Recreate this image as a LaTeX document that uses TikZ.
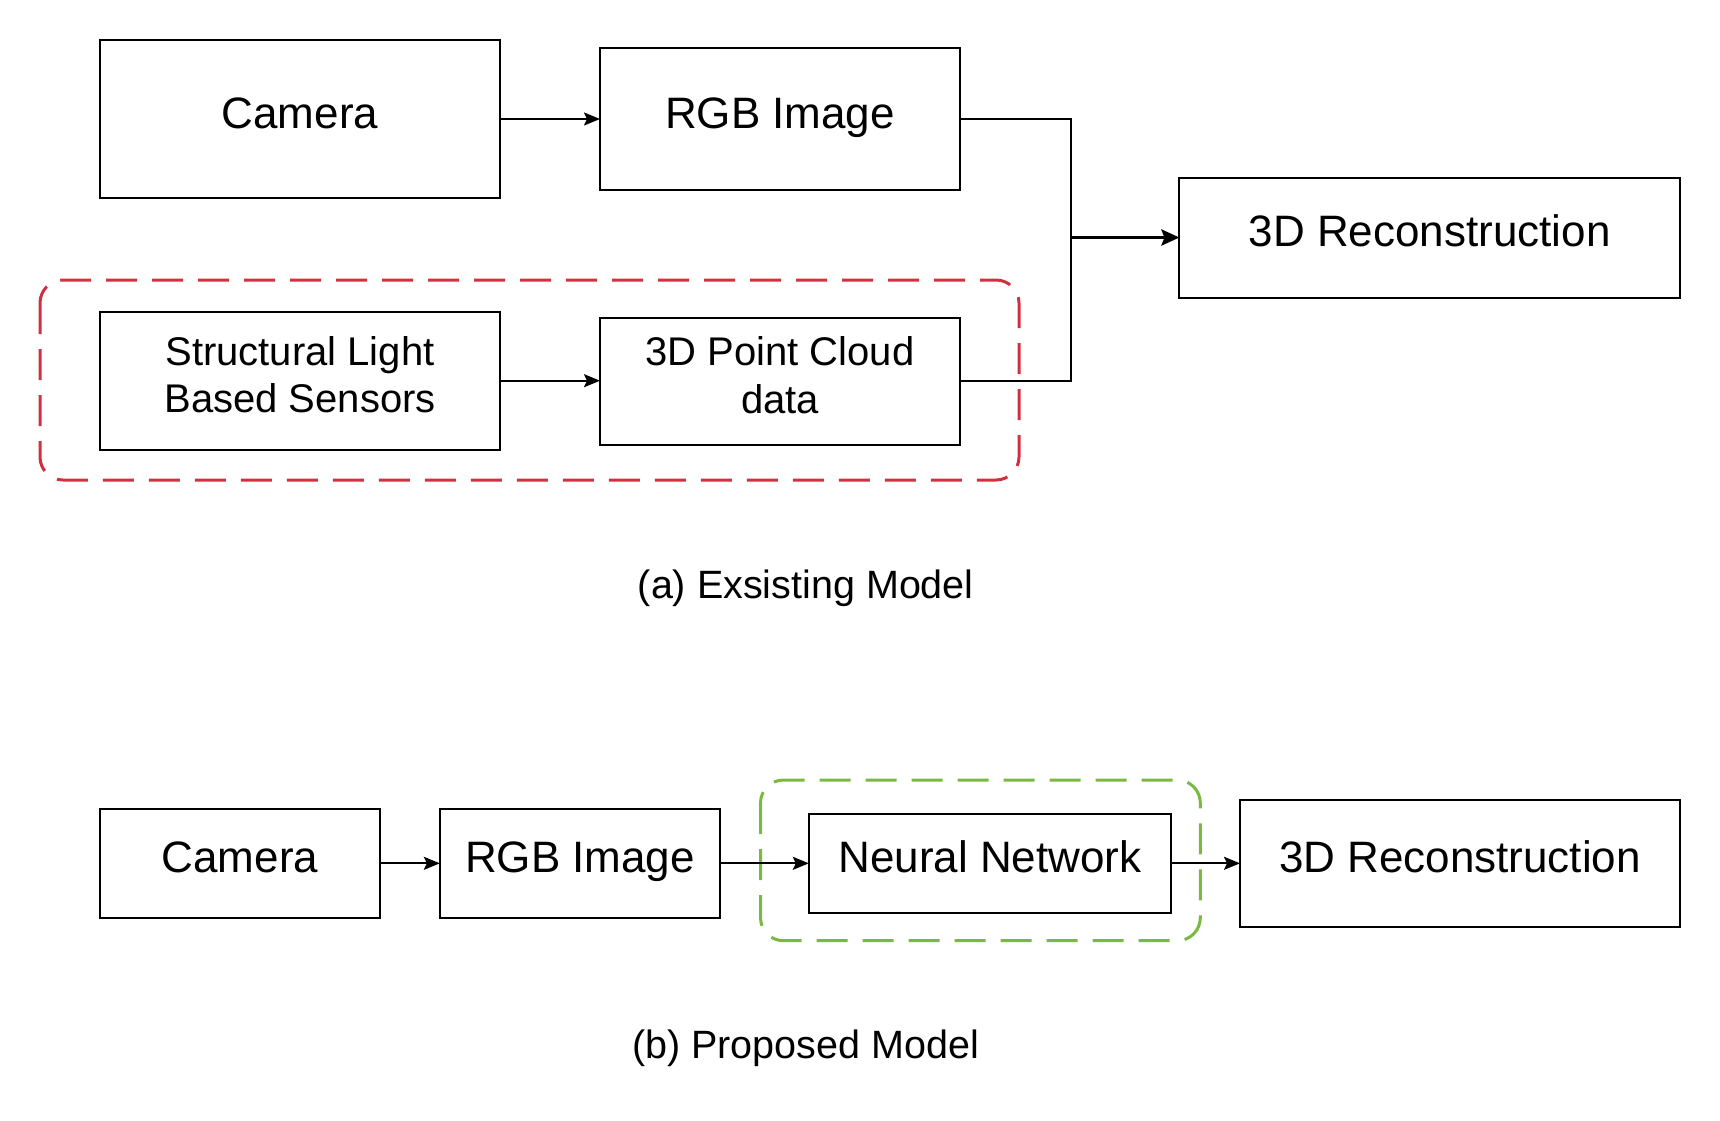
\documentclass[tikz,border=0pt]{standalone}
\usepackage{fontspec}
\setmainfont{Liberation Sans}
\usetikzlibrary{arrows.meta}

\definecolor{groupred}{RGB}{208,49,62}
\definecolor{groupgreen}{RGB}{122,184,66}

\begin{document}
\begin{tikzpicture}[x=1pt,y=-1pt,
  blockbox/.style={draw=black, line width=2pt, fill=white, inner sep=0pt, outer sep=0pt,
    font=\fontsize{44}{52}\selectfont, text height=30pt, text depth=12pt},
  twolinebox/.style={blockbox, font=\fontsize{40}{47.7}\selectfont, text height=0pt, text depth=31pt},
  flow/.style={line width=1.9pt, -{Stealth[length=16pt,width=13pt,inset=3pt]}},
  plainline/.style={line width=1.9pt},
  mainflow/.style={line width=3.2pt, -{Stealth[length=18pt,width=16pt,inset=3pt]}},
  groupframe/.style={line width=3pt, dash pattern=on 31pt off 15pt, rounded corners=23pt},
  caption/.style={font=\fontsize{39.5}{46}\selectfont, anchor=base, inner sep=0pt}
]
\useasboundingbox (0,0) rectangle (1720,1120);

% (a) existing pipeline: depth sensing group
\draw[groupframe, draw=groupred] (40,280) rectangle (1019,480);

\node[blockbox, minimum width=400pt, minimum height=158pt] (cama) at (300,119) {Camera};
\node[blockbox, minimum width=360pt, minimum height=142pt] (rgba) at (780,119) {RGB Image};
\node[twolinebox, minimum width=400pt, minimum height=138pt] (sl) at (300,380.7)
  {\begin{tabular}[t]{@{}c@{}}Structural Light\\Based Sensors\end{tabular}};
\node[twolinebox, minimum width=360pt, minimum height=127pt] (pc) at (780,381.2)
  {\begin{tabular}[t]{@{}c@{}}3D Point Cloud\\data\end{tabular}};
\node[blockbox, minimum width=500.5pt, minimum height=120pt] (reca) at (1429.7,237.7) {3D Reconstruction};

\coordinate (join) at (1071,237.5);

\draw[flow] (cama) -- (rgba);
\draw[flow] (sl) -- (sl -| pc.west);
\draw[plainline] (rgba.east) -| (join);
\draw[plainline] (pc.east) -| (join);
\draw[mainflow] (join) -- (join -| reca.west);

\node[caption] (capa) at (805.8,598.3) {(a) Exsisting Model};

% (b) proposed pipeline: learned reconstruction
\draw[groupframe, draw=groupgreen] (760.5,780) rectangle (1200.3,940.7);

\node[blockbox, minimum width=280pt, minimum height=109.3pt] (camb) at (240,863.3) {Camera};
\node[blockbox, minimum width=280.3pt, minimum height=109.3pt] (rgbb) at (580,863.3) {RGB Image};
\node[blockbox, minimum width=362.4pt, minimum height=99.3pt] (nn) at (990,863.3) {Neural Network};
\node[blockbox, minimum width=440pt, minimum height=127pt] (recb) at (1460,863.3) {3D Reconstruction};

\draw[flow] (camb) -- (rgbb);
\draw[flow] (rgbb) -- (nn);
\draw[flow] (nn) -- (recb);

\node[caption] (capb) at (805.5,1058) {(b) Proposed Model};
\end{tikzpicture}
\end{document}
